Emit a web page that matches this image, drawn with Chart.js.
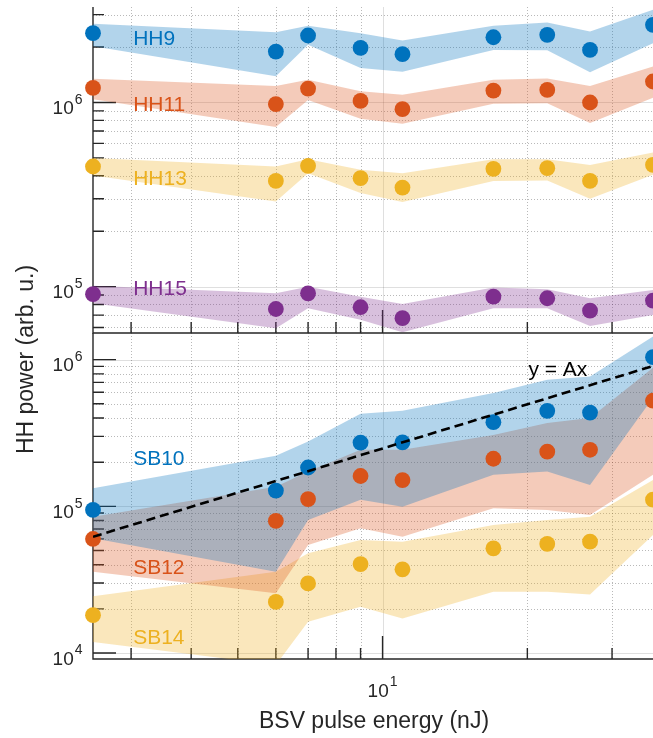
<!DOCTYPE html>
<html>
<head>
<meta charset="utf-8">
<script src="https://cdn.jsdelivr.net/npm/chart.js@4.4.1/dist/chart.umd.min.js"></script>
<style>
  html, body { margin: 0; padding: 0; background: #fff; }
  #wrap { position: relative; width: 653px; height: 738px; overflow: hidden; }
  #wrap canvas { position: absolute; left: 0; top: 0; }
</style>
</head>
<body>
<div id="wrap">
  <canvas id="topChart" width="653" height="738"></canvas>
  <canvas id="bottomChart" width="653" height="738"></canvas>
</div>
<script>
// BSV pulse energy (nJ)
const energy = [2.5, 6, 7, 9, 11, 17, 22, 27, 36.5];

// top panel: harmonics (marker, band upper, band lower)
const hh9    = [2.38e6, 1.89e6, 2.31e6, 1.98e6, 1.83e6, 2.26e6, 2.33e6, 1.93e6, 2.64e6];
const hh9Hi  = [2.68e6, 2.41e6, 2.61e6, 2.38e6, 2.17e6, 2.61e6, 2.72e6, 2.43e6, 3.19e6];
const hh9Lo  = [2.02e6, 1.39e6, 2.06e6, 1.54e6, 1.47e6, 1.93e6, 1.92e6, 1.46e6, 2.10e6];
const hh11   = [1.20e6, 9.8e5, 1.19e6, 1.02e6, 9.2e5, 1.16e6, 1.17e6, 1.0e6, 1.30e6];
const hh11Hi = [1.345e6, 1.23e6, 1.33e6, 1.15e6, 1.10e6, 1.33e6, 1.35e6, 1.23e6, 1.57e6];
const hh11Lo = [1.04e6, 7.35e5, 1.03e6, 8.15e5, 7.66e5, 9.84e5, 9.9e5, 7.73e5, 1.06e6];
const hh13   = [4.49e5, 3.75e5, 4.53e5, 3.88e5, 3.45e5, 4.36e5, 4.40e5, 3.75e5, 4.58e5];
const hh13Hi = [4.99e5, 4.49e5, 4.92e5, 4.31e5, 4.13e5, 4.92e5, 4.92e5, 4.58e5, 5.35e5];
const hh13Lo = [4.01e5, 2.90e5, 4.13e5, 3.22e5, 2.88e5, 3.75e5, 3.77e5, 3.0e5, 4.05e5];
const hh15   = [9.1e4, 7.56e4, 9.2e4, 7.73e4, 6.74e4, 8.82e4, 8.65e4, 7.4e4, 8.4e4];
const hh15Hi = [1.01e5, 9.2e4, 1.0e5, 8.82e4, 8.05e4, 9.9e4, 9.68e4, 8.65e4, 9.6e4];
const hh15Lo = [8.12e4, 5.94e4, 7.63e4, 6.6e4, 5.65e4, 7.63e4, 7.63e4, 6.12e4, 7.02e4];

// bottom panel: sidebands
const sb10   = [9.45e4, 1.28e5, 1.84e5, 2.72e5, 2.73e5, 3.75e5, 4.48e5, 4.36e5, 1.04e6];
const sb10Hi = [1.33e5, 2.21e5, 2.77e5, 4.28e5, 4.48e5, 5.92e5, 7.3e5, 7.69e5, 1.44e6];
const sb10Lo = [6.06e4, 3.58e4, 8.07e4, 1.11e5, 9.95e4, 1.64e5, 1.73e5, 1.40e5, 5.5e5];
const sb12   = [5.99e4, 7.95e4, 1.12e5, 1.61e5, 1.51e5, 2.11e5, 2.36e5, 2.43e5, 5.25e5];
const sb12Hi = [8.5e4, 1.36e5, 1.73e5, 2.43e5, 2.43e5, 3.07e5, 3.7e5, 4.0e5, 8.8e5];
const sb12Lo = [3.58e4, 2.55e4, 5.45e4, 7.08e4, 6.21e4, 9.7e4, 9.45e4, 8.74e4, 1.64e5];
const sb14   = [1.81e4, 2.23e4, 2.98e4, 4.04e4, 3.72e4, 5.17e4, 5.54e4, 5.74e4, 1.11e5];
const sb14Hi = [2.44e4, 3.58e4, 4.78e4, 5.9e4, 5.74e4, 7.46e4, 8.07e4, 8.5e4, 1.51e5];
const sb14Lo = [1.19e4, 8.3e3, 1.63e4, 2.07e4, 1.72e4, 2.62e4, 2.62e4, 2.51e4, 6.38e4];

// y = Ax guide
const fitEnergy = [2.5, 36.5];
const fitPower = [6.2e4, 9.05e5];

// ticks
const xMinorTicks = [3, 4, 5, 6, 7, 8, 9, 20, 30];
const xMajorTicks = [10];

const INK = '#262626';
const FONT = '"Liberation Sans", Arial, Helvetica, sans-serif';
const blue = '0,114,189', orange = '217,83,25', yellow = '237,177,32', purple = '126,47,142';

function pts(xs, ys) { return xs.map((x, i) => ({ x, y: ys[i] })); }
function crisp(p) { return Math.round(p) + 0.5; }

function band(hi, lo, rgb, order) {
  const common = { borderWidth: 0, borderColor: 'rgba(0,0,0,0)', pointRadius: 0, order };
  return [
    { ...common, data: pts(energy, hi), fill: '+1', backgroundColor: `rgba(${rgb},0.3)` },
    { ...common, data: pts(energy, lo), fill: false }
  ];
}

function dots(vals, rgb) {
  return {
    data: pts(energy, vals), showLine: false, fill: false, order: 1, clip: false,
    pointRadius: 7.9, pointBorderWidth: 0,
    pointBackgroundColor: `rgb(${rgb})`, pointBorderColor: `rgb(${rgb})`
  };
}

function logTicks(min, max) {
  const out = [];
  for (let e = Math.floor(Math.log10(min)); e <= Math.ceil(Math.log10(max)); e++) {
    for (let m = 1; m <= 9; m++) {
      const v = m * Math.pow(10, e);
      if (v >= min * 0.999 && v <= max) out.push({ v, major: m === 1, exp: e });
    }
  }
  return out;
}

function gridLine(ctx, major, x1, y1, x2, y2) {
  ctx.beginPath();
  ctx.setLineDash(major ? [] : [1, 2]);
  ctx.strokeStyle = major ? 'rgba(38,38,38,0.15)' : 'rgba(38,38,38,0.32)';
  ctx.moveTo(x1, y1);
  ctx.lineTo(x2, y2);
  ctx.stroke();
}

function powLabel(ctx, exp, x, y, mode) {
  ctx.font = '19px ' + FONT;
  const wb = ctx.measureText('10').width;
  ctx.font = '14px ' + FONT;
  const we = ctx.measureText(String(exp)).width;
  let left, base, sup;
  if (mode === 'y') { left = x - 10.5 - we - wb - 1; base = y + 11.7; sup = y + 1.5; }
  else { left = x - (wb + we + 1) / 2; base = y + 38; sup = y + 26.5; }
  ctx.fillStyle = INK;
  ctx.textAlign = 'left';
  ctx.textBaseline = 'alphabetic';
  ctx.font = '19px ' + FONT;
  ctx.fillText('10', left, base);
  ctx.font = '14px ' + FONT;
  ctx.fillText(String(exp), left + wb + 1, sup);
}

function axesPlugin(labels, showXLabels) {
  return {
    id: 'panelAxes',
    beforeDatasetsDraw(chart) {
      const { ctx, chartArea: a, scales: { x, y } } = chart;
      const xt = xMinorTicks.map(v => ({ v, major: false }))
        .concat(xMajorTicks.map(v => ({ v, major: true, exp: Math.round(Math.log10(v)) })));
      const yt = logTicks(y.min, y.max);
      ctx.save();
      ctx.lineWidth = 1;
      xt.forEach(t => { const p = crisp(x.getPixelForValue(t.v)); gridLine(ctx, t.major, p, a.top, p, a.bottom); });
      yt.forEach(t => { const p = crisp(y.getPixelForValue(t.v)); gridLine(ctx, t.major, a.left, p, a.right, p); });
      ctx.setLineDash([]);
      ctx.strokeStyle = INK;
      ctx.lineWidth = 1.4;
      ctx.beginPath();
      ctx.moveTo(a.left, a.top); ctx.lineTo(a.left, a.bottom); ctx.lineTo(a.right, a.bottom);
      xt.forEach(t => {
        const p = x.getPixelForValue(t.v);
        ctx.moveTo(p, a.bottom); ctx.lineTo(p, a.bottom - (t.major ? 23 : 11));
      });
      yt.forEach(t => {
        const p = y.getPixelForValue(t.v);
        ctx.moveTo(a.left, p); ctx.lineTo(a.left + (t.major ? 23 : 11), p);
      });
      ctx.stroke();
      yt.filter(t => t.major).forEach(t => powLabel(ctx, t.exp, a.left, y.getPixelForValue(t.v), 'y'));
      if (showXLabels) {
        xt.filter(t => t.major).forEach(t => powLabel(ctx, t.exp, x.getPixelForValue(t.v), a.bottom, 'x'));
      }
      ctx.restore();
    },
    afterDatasetsDraw(chart) {
      const { ctx, scales: { x, y } } = chart;
      ctx.save();
      ctx.font = '21px ' + FONT;
      ctx.textAlign = 'left';
      ctx.textBaseline = 'alphabetic';
      labels.forEach(l => {
        ctx.fillStyle = l.c;
        ctx.fillText(l.t, x.getPixelForValue(l.x), y.getPixelForValue(l.y));
      });
      ctx.restore();
    }
  };
}

const titlePlugin = {
  id: 'titles',
  afterDraw(chart) {
    const { ctx } = chart;
    ctx.save();
    ctx.fillStyle = INK;
    ctx.font = '23px ' + FONT;
    ctx.textAlign = 'center';
    ctx.textBaseline = 'alphabetic';
    ctx.fillText('BSV pulse energy (nJ)', 374, 728);
    ctx.translate(33, 359.5);
    ctx.rotate(-Math.PI / 2);
    ctx.fillText('HH power (arb. u.)', 0, 0);
    ctx.restore();
  }
};

function panelOptions(padding, yMin, yMax) {
  return {
    responsive: false,
    animation: false,
    events: [],
    layout: { padding, autoPadding: false },
    elements: { line: { tension: 0 } },
    scales: {
      x: { type: 'logarithmic', min: 2.5, max: 36.5, display: false },
      y: { type: 'logarithmic', min: yMin, max: yMax, display: false }
    },
    plugins: { legend: { display: false }, tooltip: { enabled: false } }
  };
}

new Chart(document.getElementById('topChart'), {
  type: 'line',
  data: {
    datasets: [
      ...band(hh9Hi, hh9Lo, blue, 10),
      ...band(hh11Hi, hh11Lo, orange, 11),
      ...band(hh13Hi, hh13Lo, yellow, 12),
      ...band(hh15Hi, hh15Lo, purple, 13),
      dots(hh9, blue), dots(hh11, orange), dots(hh13, yellow), dots(hh15, purple)
    ]
  },
  options: panelOptions({ left: 93, right: 0, top: 7, bottom: 405 }, 5.6e4, 3.3e6),
  plugins: [axesPlugin([
    { t: 'HH9', x: 3.03, y: 2.06e6, c: `rgb(${blue})` },
    { t: 'HH11', x: 3.03, y: 9.02e5, c: `rgb(${orange})` },
    { t: 'HH13', x: 3.03, y: 3.57e5, c: `rgb(${yellow})` },
    { t: 'HH15', x: 3.03, y: 9.0e4, c: `rgb(${purple})` }
  ], false)]
});

new Chart(document.getElementById('bottomChart'), {
  type: 'line',
  data: {
    datasets: [
      ...band(sb10Hi, sb10Lo, blue, 10),
      ...band(sb12Hi, sb12Lo, orange, 11),
      ...band(sb14Hi, sb14Lo, yellow, 12),
      dots(sb10, blue), dots(sb12, orange), dots(sb14, yellow),
      {
        data: pts(fitEnergy, fitPower), borderColor: '#000', borderWidth: 2.6,
        borderDash: [9, 5], pointRadius: 0, fill: false, order: 0
      }
    ]
  },
  options: panelOptions({ left: 93, right: 0, top: 333, bottom: 79 }, 9.1e3, 1.52e6),
  plugins: [axesPlugin([
    { t: 'SB10', x: 3.03, y: 1.92e5, c: `rgb(${blue})` },
    { t: 'SB12', x: 3.03, y: 3.45e4, c: `rgb(${orange})` },
    { t: 'SB14', x: 3.03, y: 1.15e4, c: `rgb(${yellow})` },
    { t: 'y = Ax', x: 20.1, y: 7.77e5, c: '#000' }
  ], true), titlePlugin]
});
</script>
</body>
</html>
